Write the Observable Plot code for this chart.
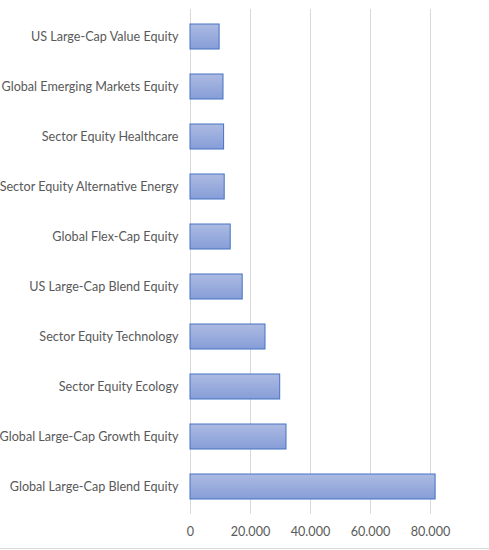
<!DOCTYPE html>
<html>
<head>
<meta charset="utf-8">
<script src="https://cdn.jsdelivr.net/npm/d3@7"></script>
<script src="https://cdn.jsdelivr.net/npm/@observablehq/plot@0.6"></script>
<style>
  body { margin: 0; background: white; }
  #chart { width: 489px; border-bottom: 1px solid #d9d9d9; }
  #chart svg { display: block; }
</style>
</head>
<body>
<div id="chart"></div>
<script>
const categories = [
  "US Large-Cap Value Equity",
  "Global Emerging Markets Equity",
  "Sector Equity Healthcare",
  "Sector Equity Alternative Energy",
  "Global Flex-Cap Equity",
  "US Large-Cap Blend Equity",
  "Sector Equity Technology",
  "Sector Equity Ecology",
  "Global Large-Cap Growth Equity",
  "Global Large-Cap Blend Equity"
];
const values = [9700, 11000, 11200, 11400, 13400, 17400, 25000, 29900, 32000, 81700];
const xTicks = [0, 20000, 40000, 60000, 80000];

const data = categories.map((c, i) => ({categoria: c, valor: values[i]}));

const fmt = d3.formatLocale({decimal: ",", thousands: ".", grouping: [3], currency: ["", ""]}).format(",d");

let chart = Plot.plot({
  width: 489,
  height: 548,
  marginTop: 9,
  marginBottom: 34,
  marginLeft: 190,
  marginRight: 11,
  style: {
    background: "white",
    color: "#595959",
    fontFamily: "Lato, sans-serif",
    fontSize: "12.6px"
  },
  x: {domain: [0, 96000]},
  y: {domain: categories, paddingInner: 0.5, paddingOuter: 0.25},
  marks: [
    Plot.ruleX(xTicks, {stroke: "#d9d9d9", strokeWidth: 1, strokeOpacity: 1}),
    Plot.barX(data, {
      x: "valor",
      y: "categoria",
      fill: "url(#barGrad)",
      stroke: "#4472c4",
      strokeWidth: 1
    }),
    Plot.axisX({
      ticks: xTicks,
      tickFormat: fmt,
      tickSize: 0,
      tickPadding: 13,
      label: null,
      fontSize: 12.6
    }),
    Plot.axisY({
      tickSize: 0,
      tickPadding: 12,
      label: null,
      fontSize: 12.6
    })
  ]
});

// gradiente tipo Excel para las barras
const defs = d3.select(chart).insert("defs", ":first-child");
const grad = defs.append("linearGradient")
  .attr("id", "barGrad")
  .attr("x1", 0).attr("y1", 0).attr("x2", 0).attr("y2", 1);
grad.append("stop").attr("offset", "0%").attr("stop-color", "#adbbe2");
grad.append("stop").attr("offset", "100%").attr("stop-color", "#869dd8");

d3.select("#chart").append(() => chart);
</script>
</body>
</html>
